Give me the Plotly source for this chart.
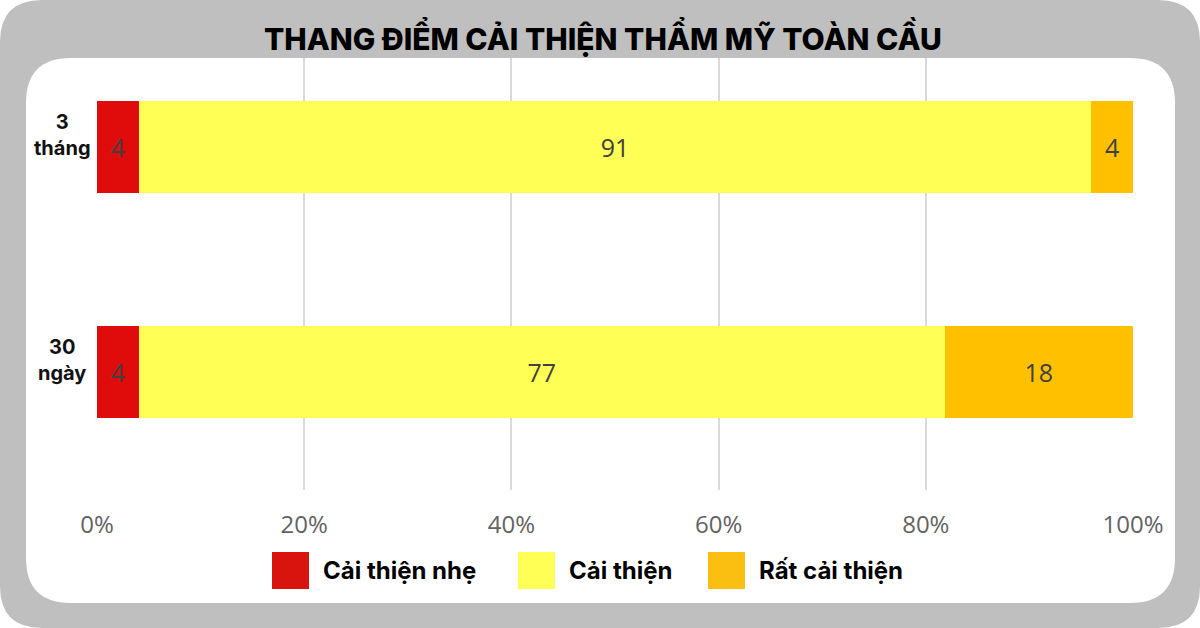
import plotly.graph_objects as go

# ---- data ----
categories = ["30 ngày", "3 tháng"]
category_labels = ["30<br>ngày", "3<br>tháng"]
series_names = ["Cải thiện nhẹ", "Cải thiện", "Rất cải thiện"]
slight = [4, 4]
improved = [77, 91]
much = [18, 4]
series_values = [slight, improved, much]
series_colors = ["#e00b0b", "#ffff55", "#ffc000"]
legend_colors = ["#d9140e", "#ffff55", "#fbbf12"]
x_tickvals = [0, 20, 40, 60, 80, 100]
x_ticktext = ["0%", "20%", "40%", "60%", "80%", "100%"]
title_text = "THANG ĐIỂM CẢI THIỆN THẨM MỸ TOÀN CẦU"

W, H = 1200, 628
L, R, T, B = 97, 1133, 58, 490  # plot area in px


def px(x):
    return (x - L) / (R - L)


def py(y):
    return (B - y) / (B - T)


def rrect(x0, y0, x1, y1, r):
    X0, X1 = px(x0), px(x1)
    Y0, Y1 = py(y0), py(y1)
    rx = r / (R - L)
    ry = r / (B - T)
    return (f"M {X0+rx},{Y0} L {X1-rx},{Y0} Q {X1},{Y0} {X1},{Y0-ry} "
            f"L {X1},{Y1+ry} Q {X1},{Y1} {X1-rx},{Y1} "
            f"L {X0+rx},{Y1} Q {X0},{Y1} {X0},{Y1+ry} "
            f"L {X0},{Y0-ry} Q {X0},{Y0} {X0+rx},{Y0} Z")


fig = go.Figure()
for name, vals, col in zip(series_names, series_values, series_colors):
    fig.add_trace(go.Bar(
        y=categories, x=vals, name=name, orientation="h",
        marker=dict(color=col, line=dict(width=0)),
        text=vals, texttemplate="%{text}", textposition="inside",
        insidetextanchor="middle", textangle=0,
        textfont=dict(family="Open Sans", size=25, color="#404040"),
        width=0.41, showlegend=False,
    ))

shapes = [
    dict(type="path", xref="paper", yref="paper", path=rrect(0, 0, 1200, 628, 42),
         fillcolor="#bfbfbf", line=dict(width=0), layer="below"),
    dict(type="path", xref="paper", yref="paper", path=rrect(26, 58, 1175, 603, 45),
         fillcolor="#ffffff", line=dict(width=0), layer="below"),
]

annotations = [
    dict(text=title_text, xref="paper", yref="paper", x=px(603), y=py(36),
         xanchor="center", yanchor="middle", showarrow=False,
         font=dict(family="Inter", size=30, color="#000000", weight=800)),
]

# category labels (centred two-line labels to the left of the bars)
for cat, lab in zip(categories, category_labels):
    annotations.append(dict(text=lab, xref="paper", yref="y", x=px(62), y=cat,
                            xanchor="center", yanchor="middle", align="center",
                            yshift=12, showarrow=False,
                            font=dict(family="Inter", size=20, color="#111111", weight=700)))

legend_sq_x = [272, 518, 708]
for name, col, sx in zip(series_names, legend_colors, legend_sq_x):
    shapes.append(dict(type="rect", xref="paper", yref="paper",
                       x0=px(sx), x1=px(sx + 37), y0=py(589), y1=py(552),
                       fillcolor=col, line=dict(width=0)))
    annotations.append(dict(text=name, xref="paper", yref="paper",
                            x=px(sx + 49), y=py(570), xanchor="left", yanchor="middle",
                            showarrow=False,
                            font=dict(family="Inter", size=24, color="#000000", weight=700)))

fig.update_layout(
    width=W, height=H,
    margin=dict(l=L, r=W - R, t=T, b=H - B, pad=0),
    paper_bgcolor="#ffffff", plot_bgcolor="rgba(0,0,0,0)",
    barmode="stack", barnorm="percent",
    shapes=shapes, annotations=annotations,
    xaxis=dict(range=[0, 100], tickvals=x_tickvals, ticktext=x_ticktext,
               showgrid=True, gridcolor="#d9d9d9", gridwidth=2,
               zeroline=False, showline=False, ticks="",
               ticklabelstandoff=18,
               tickfont=dict(family="Open Sans", size=24, color="#636363")),
    yaxis=dict(type="category", categoryorder="array", categoryarray=categories,
               range=[-0.524, 1.396], showgrid=False, zeroline=False,
               showline=False, ticks="", showticklabels=False),
)

fig.write_html("out.html")
